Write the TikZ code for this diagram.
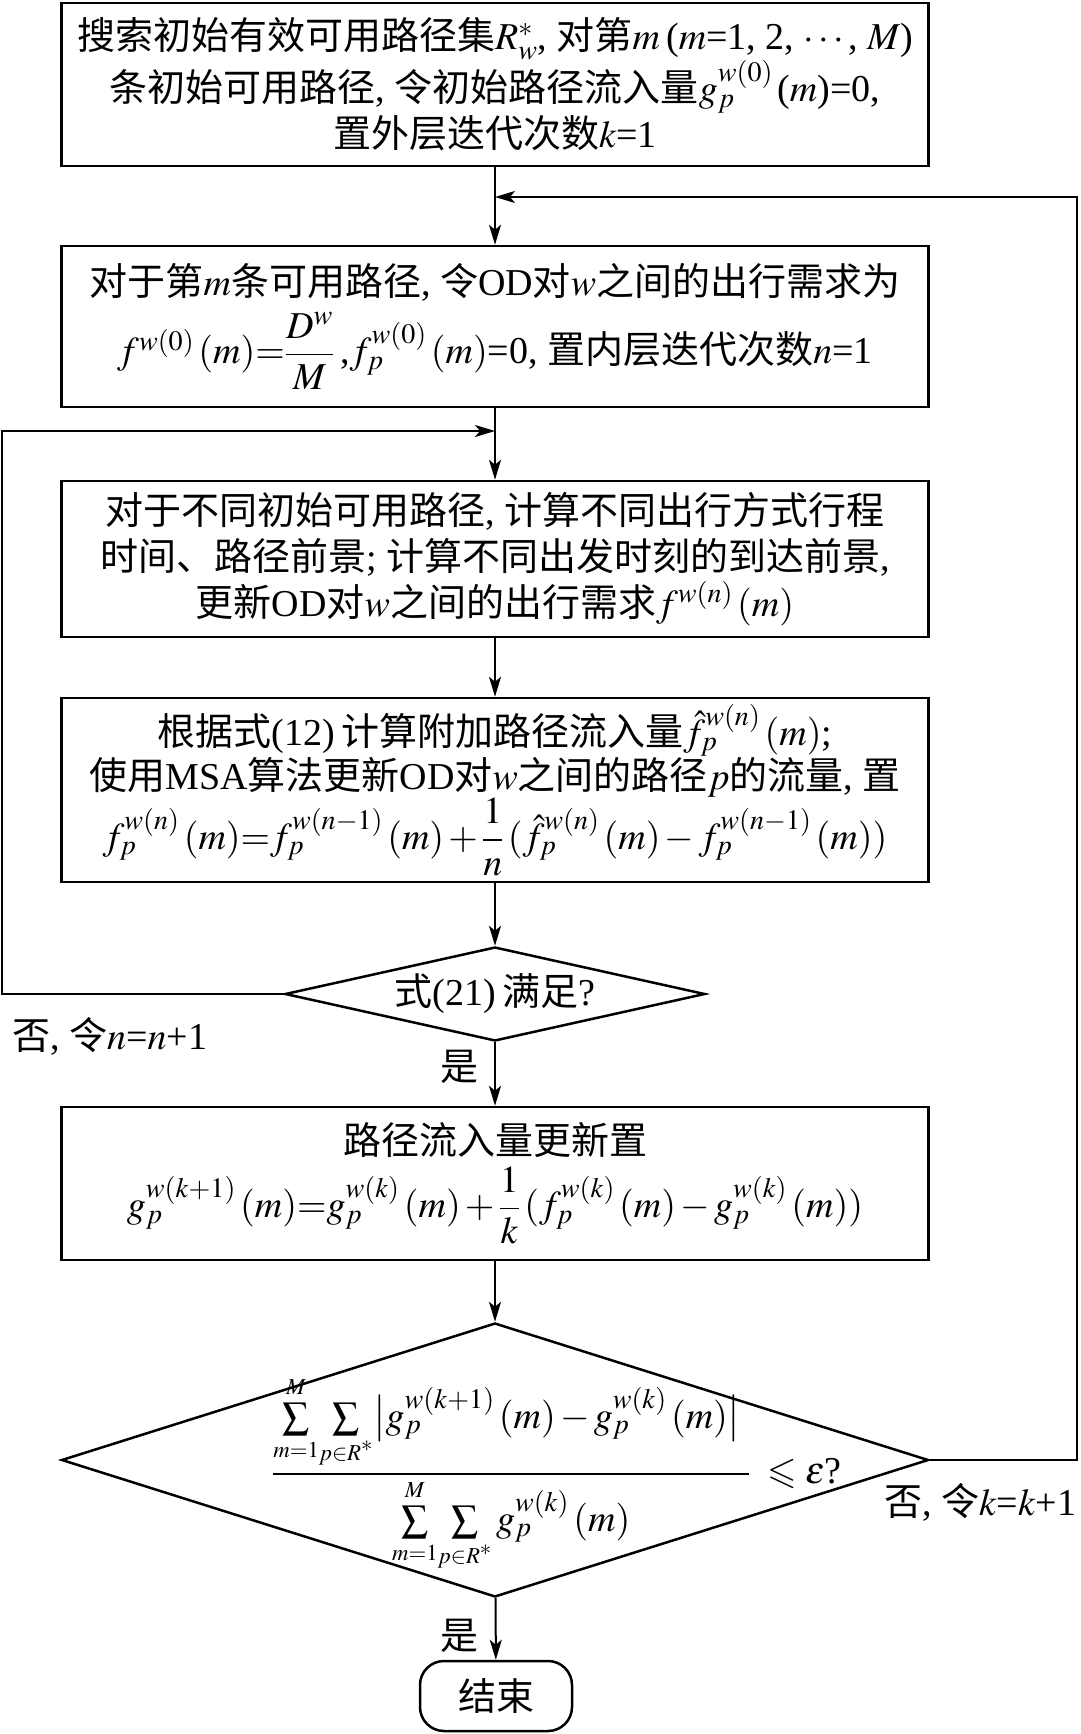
\documentclass[tikz,border=0pt]{standalone}
\usepackage{amsmath}
\usepackage{mathptmx}
\usepackage{amssymb}
\usepackage{fontspec}
\setmainfont{Liberation Serif}
\newfontfamily\cjk{Noto Sans CJK SC}
\usetikzlibrary{arrows.meta,shapes.geometric}
\newcommand\zh[1]{{\cjk #1}}
\newcommand\txtfont{\fontsize{38}{46}\selectfont}
\newcommand\ssum[2]{\mathop{\textstyle\sum}\limits_{\scriptscriptstyle #1}^{\scriptscriptstyle #2}}
\begin{document}
\begin{tikzpicture}[x=1pt,y=-1pt,
  box/.style={draw, line width=2.5pt, minimum width=867pt, inner sep=0pt, align=center, font=\txtfont},
  dia/.style={draw, diamond, line width=2.5pt, inner sep=0pt},
  lbl/.style={font=\txtfont, inner sep=0pt},
  conn/.style={line width=2pt, -{Stealth[length=20pt,width=12pt,inset=5pt]}},
  endbox/.style={draw, line width=2.5pt, rounded corners=24pt, minimum width=152pt, minimum height=70pt, font=\txtfont}]
\useasboundingbox (0,0) rectangle (1080,1734);

\node[box, minimum height=163pt] (b1) at (495,84.5) {%
\zh{搜索初始有效可用路径集}$R_w^{*}$, \zh{对第}$m$\,($m$=1, 2, $\cdots$, $M$)\\
\zh{条初始可用路径}, \zh{令初始路径流入量}$g_p^{w(0)}\,$($m$)=0,\\
\zh{置外层迭代次数}$k$=1};

\node[box, minimum height=161pt] (b2) at (495,326.5) {%
\zh{对于第}$m$\zh{条可用路径}, \zh{令}OD\zh{对}$w$\zh{之间的出行需求为}\\[10pt]
$f^{w(0)}\,(m){=}\dfrac{D^w}{M}$\,,$f_p^{w(0)}\,(m)$=0, \zh{置内层迭代次数}$n$=1};

\node[box, minimum height=156pt] (b3) at (495,559) {%
\zh{对于不同初始可用路径}, \zh{计算不同出行方式行程}\\
\zh{时间、路径前景}; \zh{计算不同出发时刻的到达前景},\\
\zh{更新}OD\zh{对}$w$\zh{之间的出行需求}$f^{w(n)}\,(m)$};

\node[box, minimum height=184pt] (b4) at (495,790) {%
\zh{根据式}(12)\,\zh{计算附加路径流入量}$\hat{f}_p^{w(n)}\,(m)$;\\[-2pt]
\zh{使用}MSA\zh{算法更新}OD\zh{对}$w$\zh{之间的路径}$p$\zh{的流量}, \zh{置}\\
$f_p^{w(n)}\,(m){=}f_p^{w(n-1)}\,(m)\,{+}\,\dfrac{1}{n}\,(\hat{f}_p^{w(n)}\,(m)\,{-}\,f_p^{w(n-1)}\,(m))$};

\node[dia, minimum width=420pt, minimum height=94pt] (d1) at (495,994) {};
\node[lbl] (t1) at (d1.center) {\zh{式}(21)\,\zh{满足}?};

\node[box, minimum height=153pt] (b5) at (495,1183.5) {%
\zh{路径流入量更新置}\\[8pt]
$g_p^{w(k+1)}\,(m){=}g_p^{w(k)}\,(m)\,{+}\,\dfrac{1}{k}\,(f_p^{w(k)}\,(m)\,{-}\,g_p^{w(k)}\,(m))$};

\node[dia, minimum width=867pt, minimum height=274pt] (d2) at (495,1460) {};
\node[lbl] (t2) at (557,1474) {$\dfrac{\ssum{m=1}{M}\!\ssum{p\in R^*}{}\bigl|g_p^{w(k+1)}\,(m)\,{-}\,g_p^{w(k)}\,(m)\bigr|\;}{\ssum{m=1}{M}\!\ssum{p\in R^*}{}g_p^{w(k)}\,(m)}\;\leqslant\varepsilon$?};

\node[endbox] (e) at (496,1696) {\zh{结束}};

\coordinate (J1) at (495,197);
\coordinate (J2) at (495,431);
\coordinate (L1) at (2,994);
\coordinate (L2) at (2,431);
\coordinate (R1) at (1077,1460);
\coordinate (R2) at (1077,197);

\draw[conn] (b1) -- (b2);
\draw[conn] (b2) -- (b3);
\draw[conn] (b3) -- (b4);
\draw[conn] (b4) -- (d1);
\draw[conn] (d1) -- (b5);
\draw[conn] (b5) -- (d2);
\draw[conn] (d2) -- (e);
\draw[conn] (d1.west) -- (L1) -- (L2) -- (J2);
\draw[conn] (d2.east) -- (R1) -- (R2) -- (J1);

\node[lbl, anchor=west] (n1) at (12,1036) {\zh{否}, \zh{令}$n$=$n$+1};
\node[lbl, anchor=east] (y1) at (479,1067) {\zh{是}};
\node[lbl, anchor=west] (n2) at (884,1502) {\zh{否}, \zh{令}$k$=$k$+1};
\node[lbl, anchor=east] (y2) at (479,1636) {\zh{是}};
\end{tikzpicture}
\end{document}
